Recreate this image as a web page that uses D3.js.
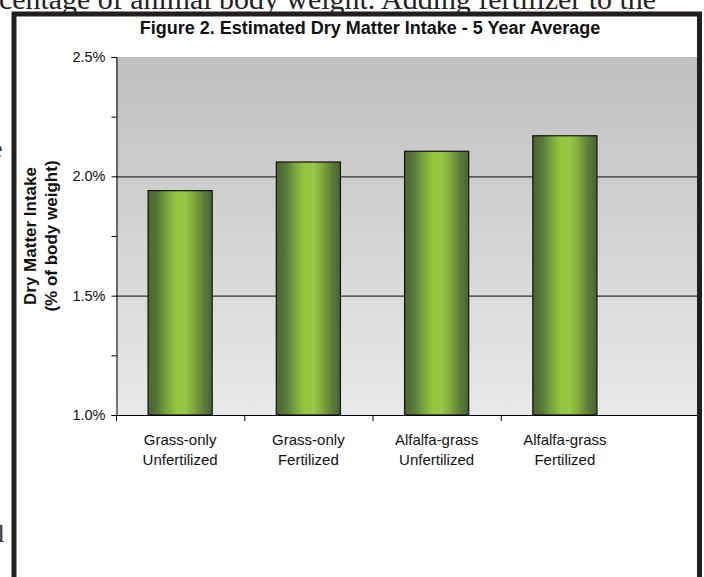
<!DOCTYPE html>
<html>
<head>
<meta charset="utf-8">
<script src="https://cdn.jsdelivr.net/npm/d3@7"></script>
<style>
  body { margin: 0; background: #fff; }
  svg { display: block; }
</style>
</head>
<body>
<div id="chart"></div>
<script>
  // data
  var categoryTop = ["Grass-only", "Grass-only", "Alfalfa-grass", "Alfalfa-grass"];
  var categoryBottom = ["Unfertilized", "Fertilized", "Unfertilized", "Fertilized"];
  var intake = [1.94, 2.06, 2.105, 2.17];
  var yTicks = [1.0, 1.5, 2.0, 2.5];
  var yMinorTicks = [1.25, 1.75, 2.25];
  var titleText = "Figure 2. Estimated Dry Matter Intake - 5 Year Average";
  var pageText = "centage of animal body weight. Adding fertilizer to the";

  var width = 704;
  var height = 577;
  var plot = { "top": 57, "bottom": 415, "left": 116, "right": 629, "edge": 697 };

  var svg = d3.select("#chart")
              .append("svg")
              .attr("width", width)
              .attr("height", height);

  var defs = svg.append("defs");

  var bg = defs.append("linearGradient")
      .attr("id", "bgGrad")
      .attr("x1", 0).attr("y1", 0).attr("x2", 0).attr("y2", 1);
  bg.append("stop").attr("offset", "0%").attr("stop-color", "#bfbfbf");
  bg.append("stop").attr("offset", "100%").attr("stop-color", "#e9e9e9");

  var barGrad = defs.append("linearGradient")
      .attr("id", "barGrad")
      .attr("x1", 0).attr("y1", 0).attr("x2", 1).attr("y2", 0);
  [["0%", "#4a6532"], ["14%", "#567739"], ["30%", "#7ca73b"], ["44%", "#94c641"],
   ["58%", "#97c842"], ["72%", "#7fa83d"], ["87%", "#5a7b38"], ["100%", "#4a6532"]]
    .forEach(function(s) {
      barGrad.append("stop").attr("offset", s[0]).attr("stop-color", s[1]);
    });

  defs.append("clipPath").attr("id", "frameClip")
      .append("rect").attr("x", 14).attr("y", 14).attr("width", 685).attr("height", 580);

  // page text around the figure (scan of a document)
  svg.append("text")
     .attr("x", -1)
     .attr("y", 9)
     .attr("font-family", "Liberation Serif, Times New Roman, serif")
     .attr("font-size", "29px")
     .attr("textLength", 657)
     .attr("lengthAdjust", "spacingAndGlyphs")
     .attr("fill", "#222")
     .text(pageText);

  [["e", 157], [":", 498], ["d", 542]].forEach(function(f) {
    svg.append("text")
       .attr("x", -9)
       .attr("y", f[1])
       .attr("font-family", "Liberation Serif, Times New Roman, serif")
       .attr("font-size", "26px")
       .attr("fill", "#333")
       .text(f[0]);
  });

  var yScale = d3.scaleLinear()
    .domain([1.0, 2.5])
    .range([plot.bottom, plot.top]);

  var xScale = d3.scaleBand()
    .domain(d3.range(intake.length))
    .range([plot.left, plot.right])
    .paddingInner(0.5)
    .paddingOuter(0.25);

  var g = svg.append("g").attr("clip-path", "url(#frameClip)");

  // plot area background (runs on to the frame edge)
  g.append("rect")
    .attr("x", plot.left)
    .attr("y", yScale(2.5))
    .attr("width", plot.edge - plot.left)
    .attr("height", yScale(1.0) - yScale(2.5))
    .attr("fill", "url(#bgGrad)");

  // gridlines
  g.selectAll(".grid")
    .data(yTicks.slice(1, 3))
    .enter()
    .append("line")
    .attr("class", "grid")
    .attr("x1", plot.left)
    .attr("x2", plot.edge)
    .attr("y1", function(d) { return yScale(d) + 0.5; })
    .attr("y2", function(d) { return yScale(d) + 0.5; })
    .attr("stroke", "#333")
    .attr("stroke-width", 1.2);

  // bars
  g.selectAll(".bar")
    .data(intake)
    .enter()
    .append("rect")
    .attr("class", "bar")
    .attr("x", function(d, i) { return xScale(i); })
    .attr("y", function(d) { return yScale(d); })
    .attr("width", xScale.bandwidth())
    .attr("height", function(d) { return yScale(1.0) - yScale(d); })
    .attr("fill", "url(#barGrad)")
    .attr("stroke", "#111")
    .attr("stroke-width", 1.2);

  // x axis line + ticks at category boundaries
  g.append("line")
    .attr("x1", plot.left).attr("x2", plot.edge)
    .attr("y1", plot.bottom + 0.5).attr("y2", plot.bottom + 0.5)
    .attr("stroke", "#000");

  var step = xScale.step();
  g.selectAll(".xtick")
    .data(d3.range(intake.length))
    .enter()
    .append("line")
    .attr("class", "xtick")
    .attr("x1", function(i) { return plot.left + 0.5 + i * step; })
    .attr("x2", function(i) { return plot.left + 0.5 + i * step; })
    .attr("y1", plot.bottom)
    .attr("y2", plot.bottom + 6)
    .attr("stroke", "#000");

  // y axis
  var axisy = d3.axisLeft(yScale)
    .tickValues(yTicks)
    .tickSize(5)
    .tickPadding(6)
    .tickFormat(function(d) { return d.toFixed(1) + "%"; });

  var yAxis = svg.append("g")
    .attr("transform", "translate(" + (plot.left + 0.5) + ",0)")
    .call(axisy);
  yAxis.select(".domain").attr("stroke", "#000");
  yAxis.selectAll("text")
    .attr("font-family", "Liberation Sans, Arial, sans-serif")
    .attr("font-size", "14.5px")
    .attr("fill", "#111");

  yAxis.selectAll(".minor")
    .data(yMinorTicks)
    .enter()
    .append("line")
    .attr("class", "minor")
    .attr("x1", -5).attr("x2", 0)
    .attr("y1", function(d) { return yScale(d) + 0.5; })
    .attr("y2", function(d) { return yScale(d) + 0.5; })
    .attr("stroke", "#000");

  // category labels
  var labels = svg.append("g")
    .attr("font-family", "Liberation Sans, Arial, sans-serif")
    .attr("font-size", "15px")
    .attr("fill", "#111")
    .attr("text-anchor", "middle");

  labels.selectAll(".l1")
    .data(categoryTop)
    .enter()
    .append("text")
    .attr("x", function(d, i) { return xScale(i) + xScale.bandwidth() / 2; })
    .attr("y", 445)
    .text(function(d) { return d; });

  labels.selectAll(".l2")
    .data(categoryBottom)
    .enter()
    .append("text")
    .attr("x", function(d, i) { return xScale(i) + xScale.bandwidth() / 2; })
    .attr("y", 465)
    .text(function(d) { return d; });

  // y title
  var ytitle = svg.append("text")
    .attr("transform", "translate(0," + (plot.top + plot.bottom) / 2 + ") rotate(-90)")
    .attr("text-anchor", "middle")
    .attr("font-family", "Liberation Sans, Arial, sans-serif")
    .attr("font-size", "17px")
    .attr("font-weight", "bold")
    .attr("fill", "#111");
  ytitle.append("tspan").attr("x", 0).attr("y", 36).text("Dry Matter Intake");
  ytitle.append("tspan").attr("x", 0).attr("y", 57).text("(% of body weight)");

  // title
  svg.append("text")
    .attr("x", 370)
    .attr("y", 34)
    .attr("text-anchor", "middle")
    .attr("font-family", "Liberation Sans, Arial, sans-serif")
    .attr("font-size", "18px")
    .attr("font-weight", "bold")
    .attr("fill", "#111")
    .text(titleText);

  // frame border
  svg.append("path")
    .attr("d", "M14,600 L14,14 L699.5,14 L699.5,600")
    .attr("fill", "none")
    .attr("stroke", "#231f20")
    .attr("stroke-width", 5);
</script>
</body>
</html>
